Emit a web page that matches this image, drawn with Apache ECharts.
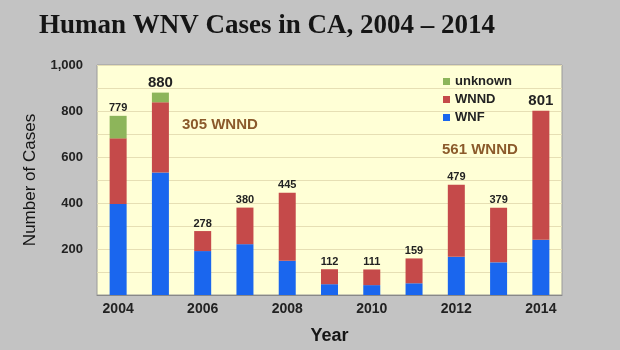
<!DOCTYPE html>
<html><head><meta charset="utf-8">
<script src="https://cdn.jsdelivr.net/npm/echarts@6/dist/echarts.min.js"></script>
<style>html,body{margin:0;padding:0;background:#c3c3c3;}#c{width:620px;height:350px;}</style>
</head><body><div id="c"></div>
<script>
const years = ['2004','2005','2006','2007','2008','2009','2010','2011','2012','2013','2014'];
const wnf = [396, 533, 191, 221, 149, 47, 43, 51, 166, 142, 240];
const wnnd = [285, 305, 87, 159, 296, 65, 68, 108, 313, 237, 561];
const unknown = [98, 42, 0, 0, 0, 0, 0, 0, 0, 0, 0];
const totals = [779, 880, 278, 380, 445, 112, 111, 159, 479, 379, 801];
const bigLabels = ['880', '801'];

const chart = echarts.init(document.getElementById('c'));
function lbl(i){
  const big = bigLabels.indexOf(String(totals[i])) >= 0;
  return {show:true, position:'top', distance:2, formatter: String(totals[i]),
    fontFamily:'Liberation Sans', fontWeight:'bold', fontSize: big?15:11, color:'#222'};
}
const unkData = unknown.map((v,i)=> v>0 ? {value:v, label:lbl(i)} : v);
const wnndData = wnnd.map((v,i)=> unknown[i]===0 ? {value:v, label:lbl(i)} : v);
chart.setOption({
  backgroundColor:'#c3c3c3',
  animation:false,
  title:{text:'Human WNV Cases in CA, 2004 \u2013 2014', left:34, top:8,
    textStyle:{fontFamily:'Liberation Serif', fontWeight:'bold', fontSize:27, color:'#151515'}},
  legend:{data:['unknown','WNND','WNF'], orient:'vertical', left:438, top:70, itemWidth:7, itemHeight:7, itemGap:5,
    icon:'rect', textStyle:{fontFamily:'Liberation Sans', fontWeight:'bold', fontSize:13, color:'#222'}},
  grid:{left:97, right:58, top:65, bottom:50, show:true, backgroundColor:'#ffffd6', borderColor:'#9a9a9a', borderWidth:1},
  xAxis:{type:'category', data:years, axisTick:{show:false},
    axisLine:{lineStyle:{color:'#888'}},
    axisLabel:{interval:1, margin:7, fontFamily:'Liberation Sans', fontWeight:'bold', fontSize:14, color:'#222'},
    name:'Year', nameLocation:'middle', nameGap:32,
    nameTextStyle:{fontFamily:'Liberation Sans', fontWeight:'bold', fontSize:18, color:'#151515'}},
  yAxis:{type:'value', min:0, max:1000, interval:100,
    axisLine:{show:false}, axisTick:{show:false},
    splitLine:{lineStyle:{color:'#e6dfb4'}},
    axisLabel:{margin:14, fontFamily:'Liberation Sans', fontWeight:'bold', fontSize:13, color:'#222',
      formatter:v=> (v>0 && v%200===0) ? (v>=1000 ? '1,000' : String(v)) : ''},
    name:'Number of Cases', nameLocation:'middle', nameGap:58, nameRotate:90,
    nameTextStyle:{fontFamily:'Liberation Sans', fontSize:17, color:'#151515'}},
  series:[
    {name:'WNF', type:'bar', stack:'a', data:wnf, barWidth:17, itemStyle:{color:'#1a66ee'}},
    {name:'WNND', type:'bar', stack:'a', data:wnndData, itemStyle:{color:'#c54a4a'}},
    {name:'unknown', type:'bar', stack:'a', data:unkData, itemStyle:{color:'#8db55a'}}
  ],
  graphic:[
    {type:'text', left:182, top:117, style:{text:'305 WNND', fontFamily:'Liberation Sans', fontWeight:'bold', fontSize:15, fill:'#8b5a2b'}},
    {type:'text', left:442, top:142, style:{text:'561 WNND', fontFamily:'Liberation Sans', fontWeight:'bold', fontSize:15, fill:'#8b5a2b'}}
  ]
});
</script></body></html>
